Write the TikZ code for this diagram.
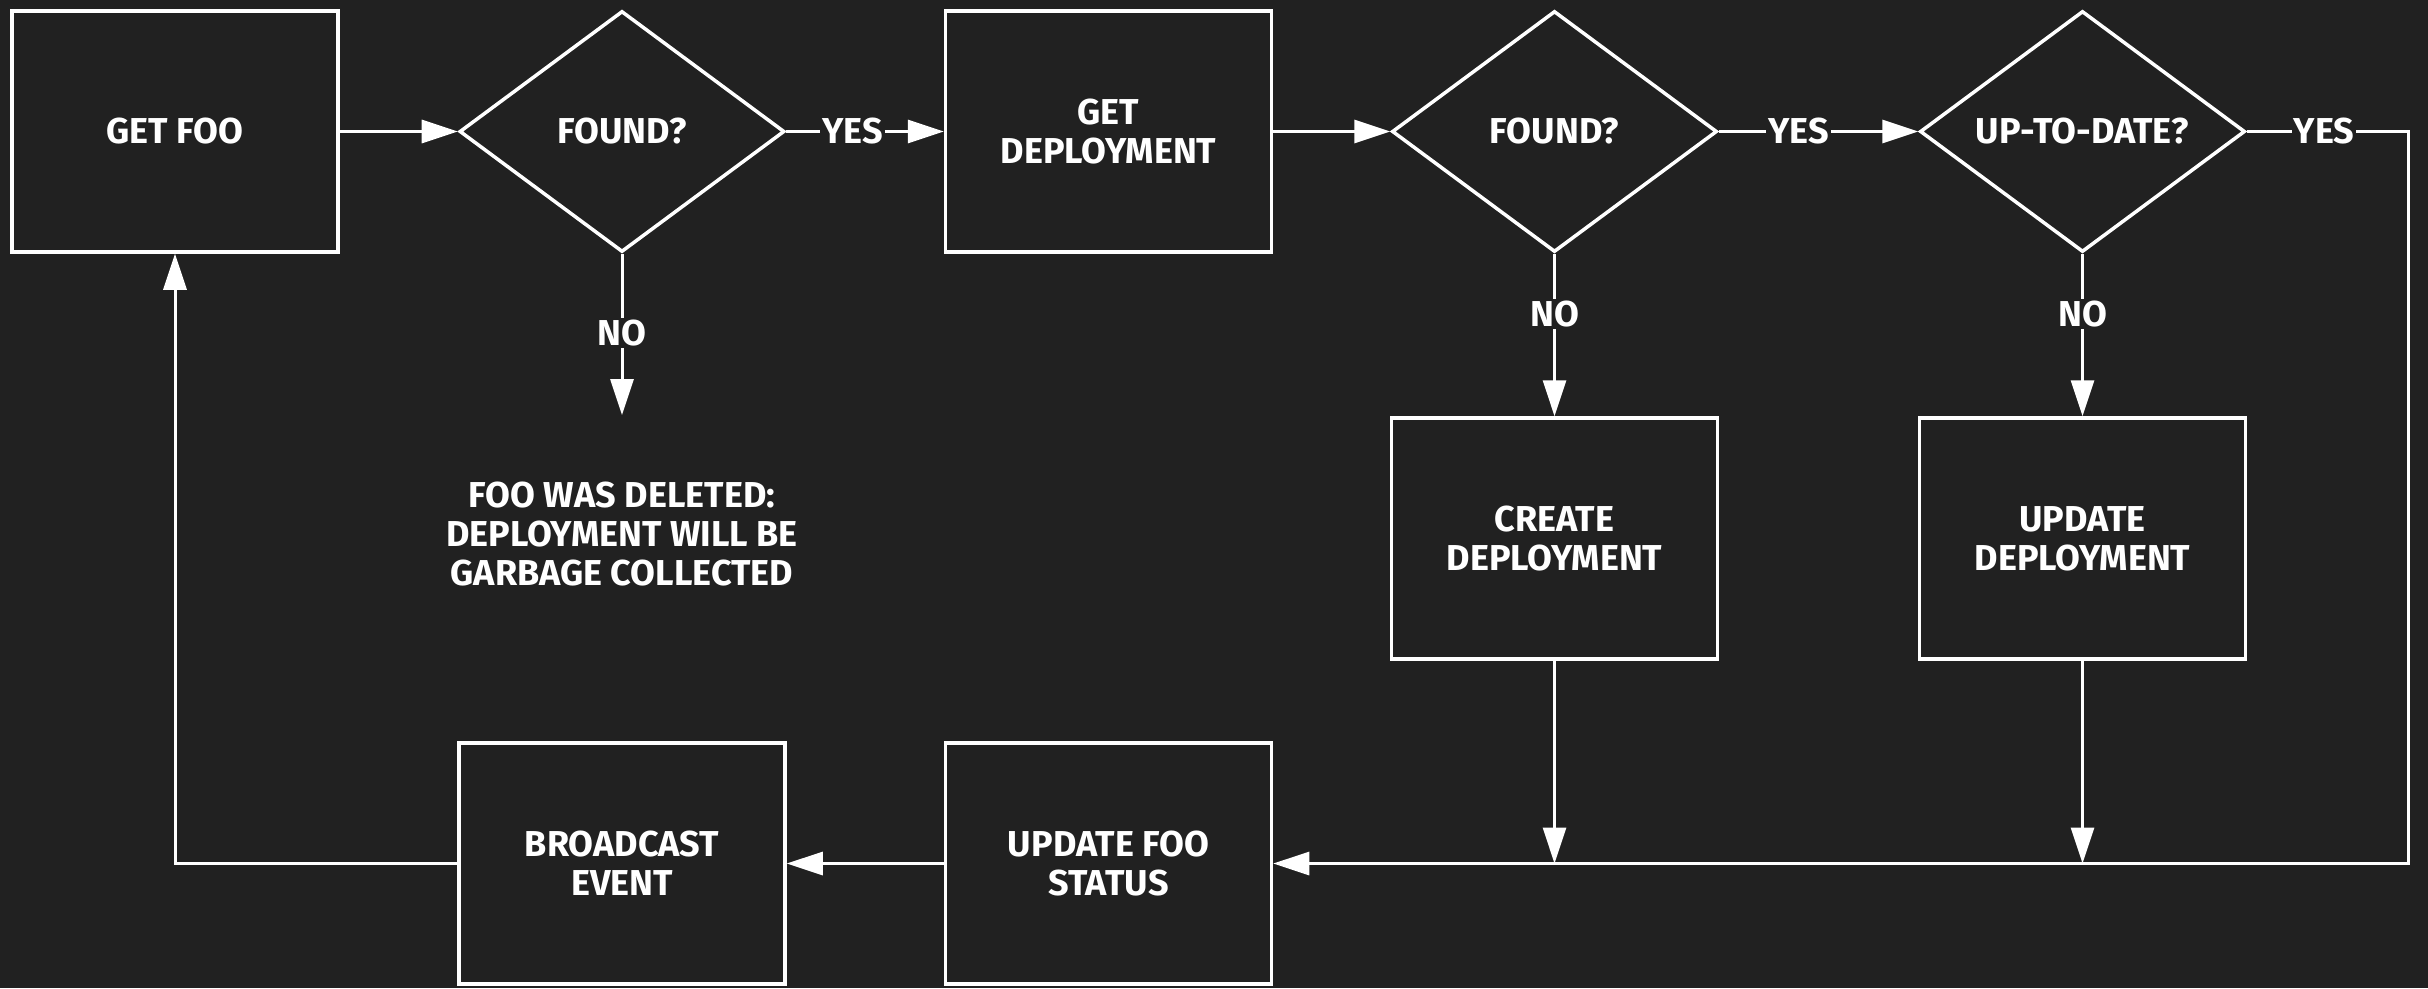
\documentclass[tikz,border=0pt]{standalone}
\usepackage{fontspec}
\setmainfont{Fira Sans}
\usetikzlibrary{shapes.geometric,arrows.meta}
\definecolor{bg}{HTML}{212121}
\begin{document}
\begin{tikzpicture}[x=1pt,y=-1pt,
  txt/.style={text=white, font=\fontsize{36}{39}\selectfont\bfseries, align=center},
  box/.style={txt, draw=white, line width=3.5pt, fill=bg, minimum width=326pt, minimum height=241pt, inner sep=0pt},
  dia/.style={diamond, draw=white, line width=3.5pt, fill=bg, minimum width=325pt, minimum height=241pt, inner sep=0pt, aspect=1.35},
  arr/.style={draw=white, line width=3pt, -{Triangle[length=36pt,width=23pt]}},
  lbl/.style={txt, fill=bg, inner sep=2pt}]
\fill[bg] (0,0) rectangle (2428,988);
\useasboundingbox (0,0) rectangle (2428,988);
% nodes
\node[box] (getfoo) at (175,131.5) {GET FOO};
\node[dia, label={[txt]center:FOUND?}] (d1) at (622,131.5) {};
\node[box] (getdep) at (1108.5,131.5) {GET\\DEPLOYMENT};
\node[dia, label={[txt]center:FOUND?}] (d2) at (1554.5,131.5) {};
\node[dia, label={[txt]center:UP-TO-DATE?}] (d3) at (2082.5,131.5) {};
\node[box] (create) at (1554.5,538.5) {CREATE\\DEPLOYMENT};
\node[box] (updep) at (2082.5,538.5) {UPDATE\\DEPLOYMENT};
\node[box] (bcast) at (622,863.5) {BROADCAST\\EVENT};
\node[box] (ufs) at (1108.5,863.5) {UPDATE FOO\\STATUS};
\node[txt] (note) at (622,534) {FOO WAS DELETED:\\DEPLOYMENT WILL BE\\GARBAGE COLLECTED};
% coordinates
\coordinate (nend) at (622,415);
\coordinate (rt) at (2408,131.5);
\coordinate (c1) at (create.south |- ufs.east);
\coordinate (c2) at (updep.south |- ufs.east);
% connectors
\draw[arr] (getfoo) -- (d1);
\draw[arr] (d1) -- node[lbl,pos=0.42]{YES} (getdep);
\draw[arr] (getdep) -- (d2);
\draw[arr] (d2) -- node[lbl,pos=0.4]{YES} (d3);
\draw[arr] (d1) -- node[lbl,pos=0.49]{NO} (nend);
\draw[arr] (d2) -- node[lbl,pos=0.37]{NO} (create);
\draw[arr] (d3) -- node[lbl,pos=0.37]{NO} (updep);
\draw[arr] (d3.east) -- node[lbl,pos=0.48]{YES} (rt) |- (ufs.east);
\draw[arr] (create) -- (c1);
\draw[arr] (updep) -- (c2);
\draw[arr] (ufs) -- (bcast);
\draw[arr] (bcast.west) -| (getfoo.south);
\end{tikzpicture}
\end{document}
